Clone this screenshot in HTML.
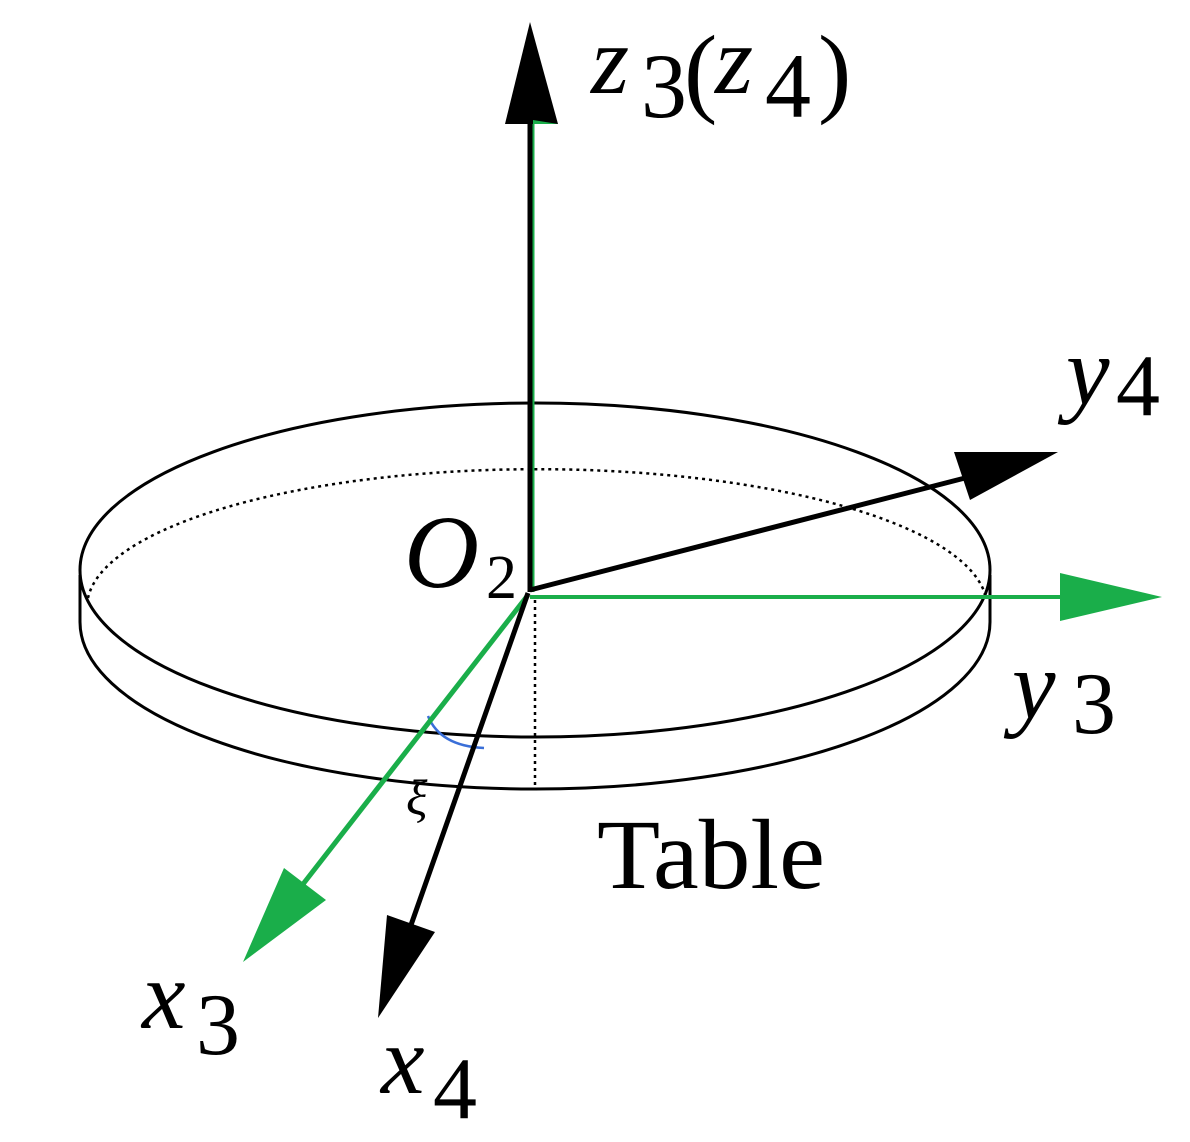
<!DOCTYPE html>
<html><head><meta charset="utf-8"><style>html,body{margin:0;padding:0;background:#fff;}svg{display:block}</style></head>
<body>
<svg width="1190" height="1142" viewBox="0 0 1190 1142" xmlns="http://www.w3.org/2000/svg">
<g fill="none" stroke="#000" stroke-width="3">
  <path d="M88 598 A450 138 0 0 1 986 598" stroke-dasharray="3 4" stroke-width="2.5"/>
  <path d="M80 622 A455 167 0 0 0 990 622"/>
  <line x1="80" y1="575" x2="80" y2="622"/>
  <line x1="990" y1="575" x2="990" y2="622"/>
  <ellipse cx="535" cy="570" rx="455" ry="167"/>
  <line x1="535" y1="600" x2="535" y2="788" stroke-dasharray="3 4" stroke-width="2.5"/>
</g>
<path d="M428 716 Q440 746 484 748" fill="none" stroke="#3a6fd8" stroke-width="2.5"/>
<line x1="533" y1="592" x2="533" y2="120" stroke="#1aae4a" stroke-width="3"/>
<line x1="530" y1="592" x2="530" y2="115" stroke="#000" stroke-width="5"/>
<polygon points="530,22 505,124 558,124" fill="#000"/>
<polygon points="533,120 558,124 533,124" fill="#1aae4a"/>
<line x1="530" y1="597" x2="1070" y2="597" stroke="#1aae4a" stroke-width="4"/>
<polygon points="1162,597 1060,573 1060,621" fill="#1aae4a"/>
<line x1="528" y1="595" x2="300" y2="888" stroke="#1aae4a" stroke-width="5"/>
<polygon points="243,962 284,868 326,900" fill="#1aae4a"/>
<line x1="530" y1="590" x2="965" y2="478" stroke="#000" stroke-width="5"/>
<polygon points="1058,452 954,452 970,500" fill="#000"/>
<line x1="528" y1="593" x2="411" y2="925" stroke="#000" stroke-width="5"/>
<polygon points="378,1018 387,915 435,932" fill="#000"/>
<g font-family="'Liberation Serif', serif" fill="#000">
  <text x="591" y="93" font-size="98" font-style="italic">z</text>
  <text x="641" y="117" font-size="92">3</text>
  <text x="684" y="104" font-size="100">(</text>
  <text x="715" y="93" font-size="98" font-style="italic">z</text>
  <text x="765" y="117" font-size="92">4</text>
  <text x="818" y="104" font-size="100">)</text>

  <text x="1066" y="404" font-size="98" font-style="italic">y</text>
  <text x="1116" y="415" font-size="88">4</text>

  <text x="1012" y="718" font-size="98" font-style="italic">y</text>
  <text x="1072" y="733" font-size="88">3</text>

  <text x="142" y="1028" font-size="98" font-style="italic">x</text>
  <text x="196" y="1054" font-size="88">3</text>

  <text x="381" y="1093" font-size="98" font-style="italic">x</text>
  <text x="433" y="1118" font-size="88">4</text>

  <text x="404" y="587" font-size="104" font-style="italic">O</text>
  <text x="486" y="598" font-size="62">2</text>

  <text x="597" y="888" font-size="100" textLength="228" lengthAdjust="spacingAndGlyphs">Table</text>
  <text x="406" y="814" font-size="50" font-style="italic">ξ</text>
</g>
</svg>
</body></html>
